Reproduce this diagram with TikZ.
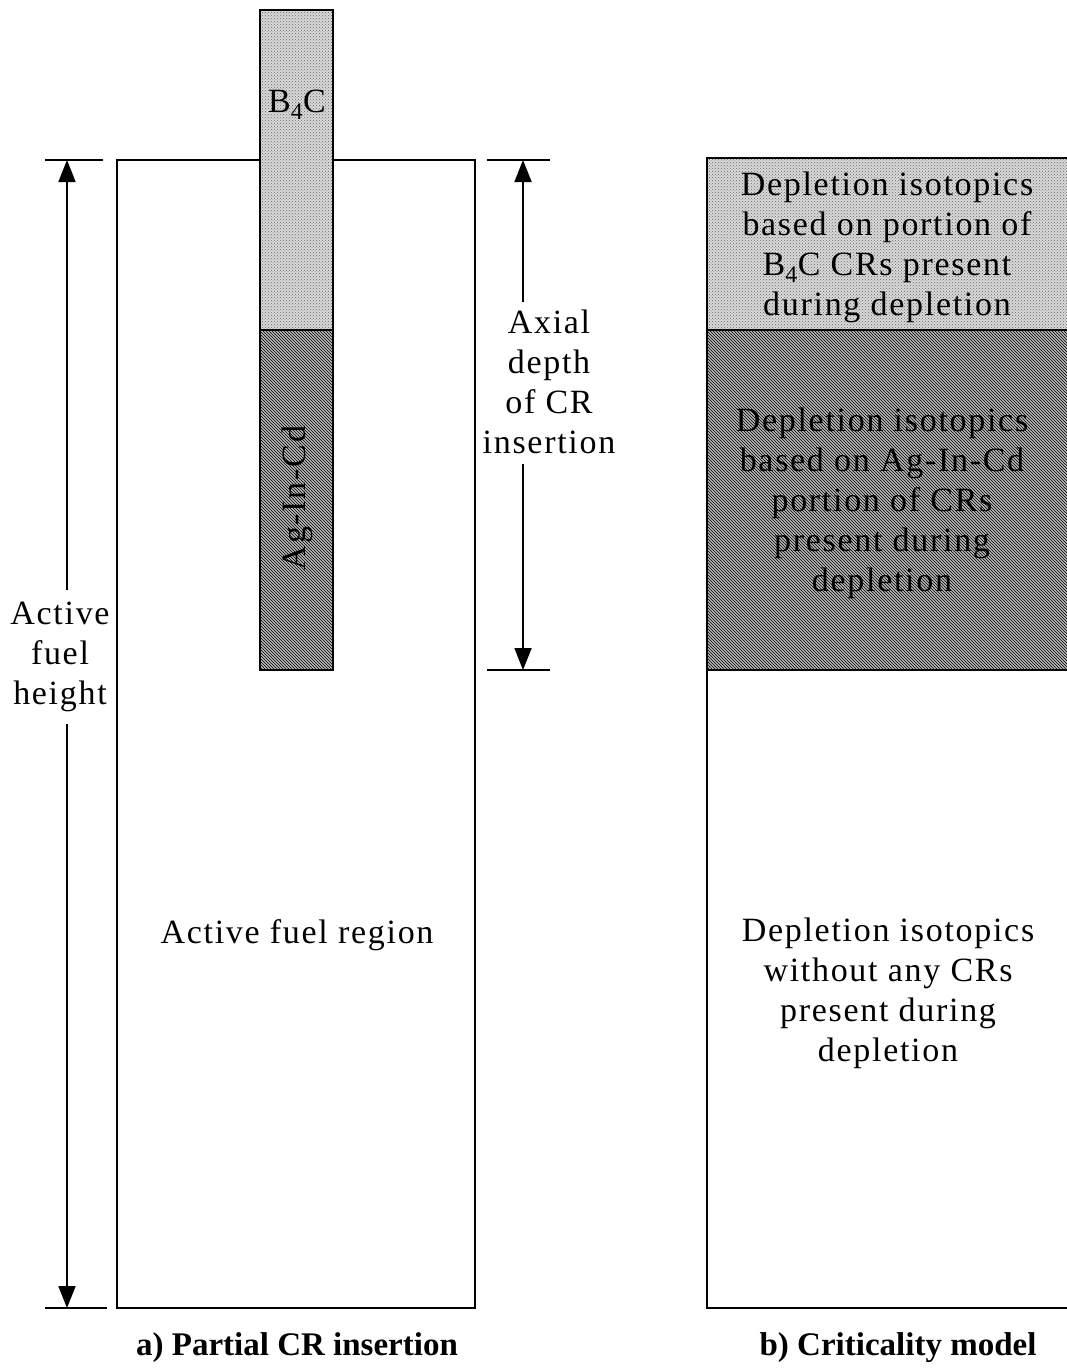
\documentclass[tikz,border=0pt]{standalone}
\usepackage{fontspec}
\setmainfont{Liberation Serif}
\newfontfamily\widefont[LetterSpace=5]{Liberation Serif}
\usetikzlibrary{patterns,arrows.meta}
\begin{document}
\begin{tikzpicture}[x=1pt,y=-1pt,line width=2pt,
  lbl/.style={font=\widefont\fontsize{34}{40}\selectfont,align=center,inner sep=0pt},
  captext/.style={font=\bfseries\fontsize{33}{40}\selectfont,inner sep=0pt},
  arr/.style={line width=1.8pt,-{Triangle[length=22pt,width=17pt]}},
  lightfill/.style={fill=gray!30},
  darkfill/.style={fill=gray!55}]
\useasboundingbox (0,0) rectangle (1067,1370);
% left: fuel region
\draw (117,160) rectangle (475,1308);
% control rod
\fill[lightfill] (260,10) rectangle (333,330);
\fill[pattern=crosshatch dots,pattern color=black!60] (260,10) rectangle (333,330);
\fill[darkfill] (260,330) rectangle (333,670);
\fill[pattern=north west lines,pattern color=black] (260,330) rectangle (333,670);
\draw (260,10) rectangle (333,670);
\draw (260,330) -- (333,330);
\node[lbl] (b4c) at (297,105) {B\textsubscript{4}C};
\node[lbl,rotate=90] (agincd) at (297,498) {Ag-In-Cd};
\node[lbl] (afr) at (297,935) {Active fuel region};
% left dimension
\coordinate (lt1) at (45,160); \coordinate (lt2) at (103,160);
\coordinate (lb1) at (45,1308); \coordinate (lb2) at (107,1308);
\draw (lt1) -- (lt2);
\draw (lb1) -- (lb2);
\node[lbl] (afh) at (60,657) {Active\\fuel\\height};
\coordinate (lt) at (67,160); \coordinate (lb) at (67,1308);
\coordinate (lg1) at (67,590); \coordinate (lg2) at (67,724);
\draw[arr] (lg1) -- (lt);
\draw[arr] (lg2) -- (lb);
% right dimension
\coordinate (rt1) at (487,160); \coordinate (rt2) at (550,160);
\coordinate (rb1) at (487,670); \coordinate (rb2) at (550,670);
\draw (rt1) -- (rt2);
\draw (rb1) -- (rb2);
\node[lbl] (adi) at (549,382) {Axial\\depth\\of CR\\insertion};
\coordinate (rt) at (523,160); \coordinate (rb) at (523,670);
\coordinate (rg1) at (523,302); \coordinate (rg2) at (523,464);
\draw[arr] (rg1) -- (rt);
\draw[arr] (rg2) -- (rb);
% right: criticality model
\fill[lightfill] (707,158) rectangle (1068,330);
\fill[pattern=crosshatch dots,pattern color=black!60] (707,158) rectangle (1068,330);
\fill[darkfill] (707,330) rectangle (1068,670);
\fill[pattern=north west lines,pattern color=black] (707,330) rectangle (1068,670);
\draw (1068,158) -- (707,158) -- (707,1308) -- (1068,1308);
\draw (707,330) -- (1068,330);
\draw (707,670) -- (1068,670);
\node[lbl] (top) at (887,247) {Depletion isotopics\\based on portion of\\B\textsubscript{4}C CRs present\\during depletion};
\node[lbl] (mid) at (882,503) {Depletion isotopics\\based on Ag-In-Cd\\portion of CRs\\present during\\depletion};
\node[lbl] (bot) at (888,993) {Depletion isotopics\\without any CRs\\present during\\depletion};
% captions
\node[captext] (capa) at (297,1348) {a) Partial CR insertion};
\node[captext] (capb) at (898,1348) {b) Criticality model};
\end{tikzpicture}
\end{document}
